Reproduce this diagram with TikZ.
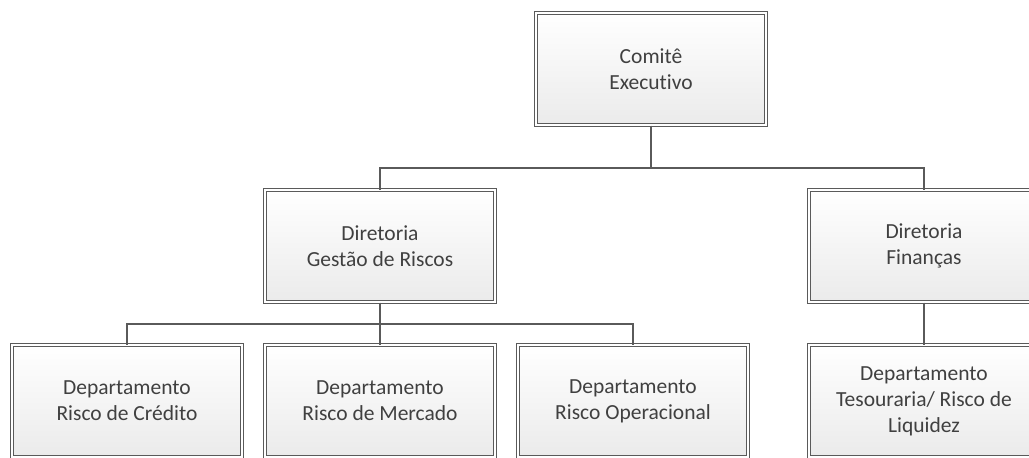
\documentclass[tikz,border=0pt]{standalone}
\usepackage{fontspec}
\setmainfont{Carlito}[Ligatures={NoCommon,NoRare}]
\usetikzlibrary{shadows}

\definecolor{boxline}{HTML}{5A5A5A}
\definecolor{boxtext}{HTML}{404040}

\tikzset{
	orgbox/.style={draw=boxline, line width=1pt, double=white, double distance=1.3pt,
		top color=white, bottom color=black!8, minimum width=230pt, minimum height=112pt,
		align=center, text=boxtext, font=\fontsize{21.5}{26}\selectfont,
		drop shadow={shadow xshift=2pt, shadow yshift=-2pt, opacity=0.25}},
	link/.style={draw=boxline, line width=1.3pt}
}

\begin{document}
\begin{tikzpicture}[x=1pt, y=-1pt]
				\clip (0,0) rectangle (1029,458);
				
				\node[orgbox] (comite) at (651,69) {Comitê\\Executivo};
				
				\node[orgbox] (gestao) at (380,246) {Diretoria\\Gestão de Riscos};
				\node[orgbox] (financas) at (924,246) {Diretoria\\Finanças};
				
				\node[orgbox] (credito) at (127,401) {Departamento\\Risco de Crédito};
				\node[orgbox] (mercado) at (380,401) {Departamento\\Risco de Mercado};
				\node[orgbox] (operacional) at (633,401) {Departamento\\Risco Operacional};
				\node[orgbox] (tesouraria) at (924,401) {Departamento\\Tesouraria/ Risco de\\Liquidez};
				
				\coordinate (topbus) at (651,168);
				\coordinate (lowbus) at (380,324);
				
				\draw[link] (comite.south) -- (topbus);
				\draw[link] (gestao.north) |- (topbus) -| (financas.north);
				
				\draw[link] (gestao.south) -- (mercado.north);
				\draw[link] (credito.north) |- (lowbus) -| (operacional.north);
				
				\draw[link] (financas.south) -- (tesouraria.north);
\end{tikzpicture}
\end{document}
